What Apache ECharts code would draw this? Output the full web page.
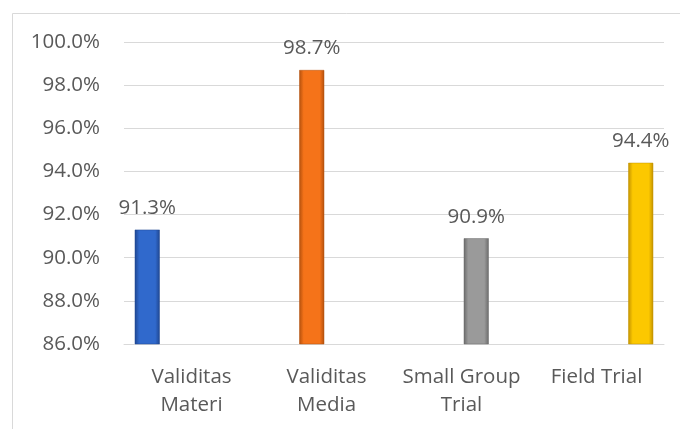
<!DOCTYPE html>
<html>
<head>
<meta charset="utf-8">
<script src="https://cdn.jsdelivr.net/npm/echarts@6/dist/echarts.min.js"></script>
<style>html,body{margin:0;padding:0;background:#fff}#c{width:680px;height:429px}</style>
</head>
<body>
<div id="c"></div>
<script>
var categories = ['Validitas\nMateri', 'Validitas\nMedia', 'Small Group\nTrial', 'Field Trial'];
var values = [91.3, 98.7, 90.9, 94.4];
var yTicks = { min: 86, max: 100, interval: 2 };
var colorMain = ['#3069cc', '#f57319', '#9a9a9a', '#fcc800'];
var colorEdge = ['#1f4690', '#b3500d', '#6a6a6a', '#c29200'];

var FONT = '"Open Sans", sans-serif';
var FS = 20.5;
var chart = echarts.init(document.getElementById('c'), null, { renderer: 'canvas' });

var series = values.map(function (v, i) {
  var d = categories.map(function (_, j) { return j === i ? v : '-'; });
  return {
    type: 'bar',
    name: categories[i],
    data: d,
    barWidth: 25,
    barGap: '18%',
    itemStyle: {
      color: new echarts.graphic.LinearGradient(0, 0, 1, 0, [
        { offset: 0, color: colorEdge[i] },
        { offset: 0.18, color: colorMain[i] },
        { offset: 0.82, color: colorMain[i] },
        { offset: 1, color: colorEdge[i] }
      ]),
      borderColor: colorEdge[i],
      borderWidth: 0.5
    },
    label: {
      show: true,
      position: 'top',
      distance: 11,
      formatter: function (p) { return p.value.toFixed(1) + '%'; },
      color: '#595959',
      fontSize: FS,
      fontFamily: FONT
    }
  };
});

chart.setOption({
  animation: false,
  backgroundColor: '#fff',
  graphic: [{
    type: 'rect',
    shape: { x: 12.5, y: 13.5, width: 720, height: 460 },
    style: { fill: 'none', stroke: '#d9d9d9', lineWidth: 1 },
    z: -1
  }],
  grid: { left: 124, right: 16, top: 42, bottom: 85 },
  xAxis: {
    type: 'category',
    data: categories,
    axisLine: { lineStyle: { color: '#d9d9d9', width: 1 } },
    axisTick: { show: false },
    axisLabel: {
      color: '#595959', fontSize: FS, fontFamily: FONT,
      lineHeight: 28, margin: 19, interval: 0
    }
  },
  yAxis: {
    type: 'value',
    min: yTicks.min, max: yTicks.max, interval: yTicks.interval,
    axisLine: { show: false },
    axisTick: { show: false },
    splitLine: { lineStyle: { color: '#d9d9d9', width: 1 } },
    axisLabel: {
      color: '#595959', fontSize: FS, fontFamily: FONT, margin: 24,
      formatter: function (v) { return v.toFixed(1) + '%'; }
    }
  },
  series: series
});
</script>
</body>
</html>
